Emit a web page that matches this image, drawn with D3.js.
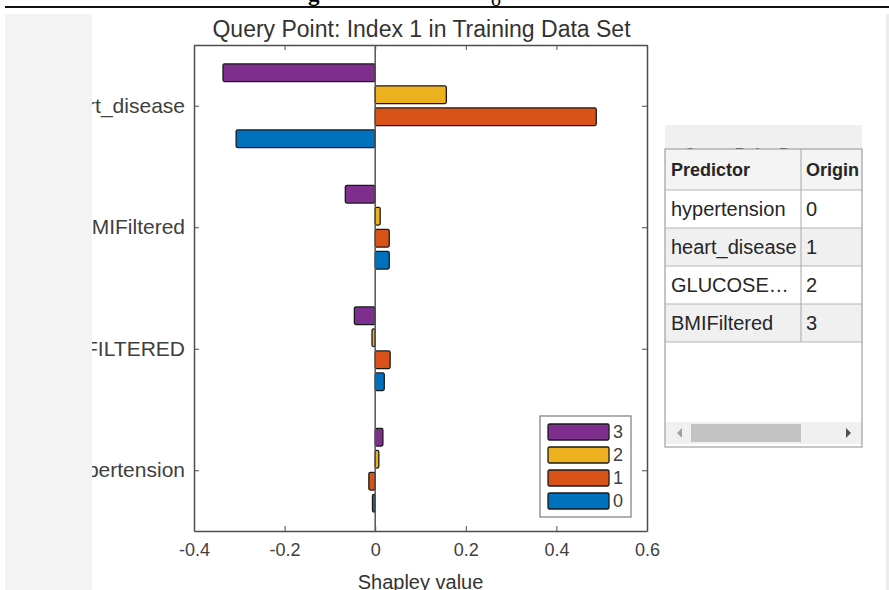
<!DOCTYPE html>
<html>
<head>
<meta charset="utf-8">
<script src="https://cdn.jsdelivr.net/npm/d3@7"></script>
<style>
  body { margin: 0; background: #fff; }
  svg { display: block; font-family: Arial, "Liberation Sans", Helvetica, sans-serif; }
  .axis path, .axis line { stroke: #4d4d4d; }
  .axis text { fill: #404040; }
</style>
</head>
<body>
<div id="chart"></div>
<script>
// chart data
const predictors = ['hypertension', 'GLUCOSE_FILTERED', 'BMIFiltered', 'heart_disease']; // bottom -> top
const classes = ['3', '2', '1', '0'];
const classColors = ['#7e2f8e', '#edb120', '#d95319', '#0072bd'];
const shapley3 = [0.017, -0.046, -0.066, -0.336];
const shapley2 = [0.008, -0.007, 0.011, 0.157];
const shapley1 = [-0.014, 0.033, 0.031, 0.488];
const shapley0 = [-0.006, 0.020, 0.031, -0.307];
const xTicks = [-0.4, -0.2, 0, 0.2, 0.4, 0.6];

// query point table
const tableHeader = ['Predictor', 'Origin'];
const tableRows = [
  ['hypertension', '0'],
  ['heart_disease', '1'],
  ['GLUCOSE\u2026', '2'],
  ['BMIFiltered', '3']
];

const seriesByClass = { '3': shapley3, '2': shapley2, '1': shapley1, '0': shapley0 };

const width = 889;
const height = 590;
const plot = { left: 194, right: 647, top: 45, bottom: 531 };

const svg = d3.select('#chart')
  .append('svg')
  .attr('width', width)
  .attr('height', height);

// page bits around the figure
svg.append('line')
  .attr('x1', 5).attr('x2', width)
  .attr('y1', 7).attr('y2', 7)
  .attr('stroke', '#111').attr('stroke-width', 2);
svg.append('text').attr('x', 308).attr('y', 1)
  .style('font-family', 'Liberation Serif, serif').style('font-weight', 'bold').style('font-size', '23px')
  .text('g');
svg.append('text').attr('x', 491).attr('y', 6)
  .style('font-family', 'Liberation Serif, serif').style('font-size', '20px')
  .text('o');

// scales
const xScale = d3.scaleLinear().domain([-0.4, 0.6]).range([plot.left, plot.right]);
const yScale = d3.scaleLinear().domain([0.5, 4.5]).range([plot.bottom, plot.top]);
const inner = d3.scaleBand().domain(classes).range([-44, 44]).paddingInner(0.2).paddingOuter(0.1);

// title
svg.append('text')
  .attr('x', (plot.left + plot.right) / 2 + 1)
  .attr('y', 37)
  .attr('text-anchor', 'middle')
  .attr('fill', '#333')
  .style('font-size', '23px')
  .text('Query Point: Index 1 in Training Data Set');

// axes box background
svg.append('rect')
  .attr('x', plot.left).attr('y', plot.top)
  .attr('width', plot.right - plot.left).attr('height', plot.bottom - plot.top)
  .attr('fill', '#fff');

// axes (ticks point inward, MATLAB style)
const xAxis = d3.axisBottom(xScale).tickValues(xTicks)
  .tickFormat((d) => d === 0 ? '0' : d3.format('.1f')(d).replace('\u2212', '-'))
  .tickSizeInner(-5).tickSizeOuter(0).tickPadding(12);
svg.append('g').attr('class', 'axis')
  .attr('transform', `translate(0, ${plot.bottom})`)
  .call(xAxis)
  .call((g) => g.selectAll('text').style('font-size', '18px'));

svg.append('g').attr('class', 'axis')
  .attr('transform', `translate(0, ${plot.top})`)
  .call(d3.axisTop(xScale).tickValues(xTicks).tickFormat('').tickSizeInner(-5).tickSizeOuter(0));

const yAxis = d3.axisLeft(yScale).tickValues([1, 2, 3, 4])
  .tickFormat((d) => predictors[d - 1])
  .tickSizeInner(-5).tickSizeOuter(0).tickPadding(9);
svg.append('g').attr('class', 'axis')
  .attr('transform', `translate(${plot.left}, 0)`)
  .call(yAxis)
  .call((g) => g.selectAll('text').style('font-size', '21px'));

svg.append('g').attr('class', 'axis')
  .attr('transform', `translate(${plot.right}, 0)`)
  .call(d3.axisRight(yScale).tickValues([1, 2, 3, 4]).tickFormat('').tickSizeInner(-5).tickSizeOuter(0));

svg.selectAll('.axis .domain').attr('stroke-width', 1.5);

// bars
const barData = [];
classes.forEach((c, ci) => {
  seriesByClass[c].forEach((v, pi) => {
    barData.push({ cls: c, color: classColors[ci], pos: pi + 1, value: v });
  });
});

svg.append('g').attr('class', 'bars')
  .selectAll('rect')
  .data(barData)
  .join('rect')
  .attr('x', (d) => Math.min(xScale(0), xScale(d.value)))
  .attr('width', (d) => Math.abs(xScale(d.value) - xScale(0)))
  .attr('y', (d) => yScale(d.pos) + inner(d.cls))
  .attr('height', inner.bandwidth())
  .attr('rx', 1.5)
  .attr('fill', (d) => d.color)
  .attr('stroke', '#1a1a1a')
  .attr('stroke-width', 1.3);

// zero line
svg.append('line')
  .attr('x1', xScale(0)).attr('x2', xScale(0))
  .attr('y1', plot.top).attr('y2', plot.bottom)
  .attr('stroke', '#555').attr('stroke-width', 1.5);

// legend
const legend = svg.append('g').attr('class', 'legend').attr('transform', 'translate(540, 416)');
legend.append('rect')
  .attr('width', 91).attr('height', 101)
  .attr('fill', '#fff').attr('stroke', '#7a7a7a').attr('stroke-width', 1.2);
const items = legend.selectAll('g.item')
  .data(classes)
  .join('g')
  .attr('class', 'item')
  .attr('transform', (d, i) => `translate(8, ${8 + i * 23})`);
items.append('rect')
  .attr('width', 61).attr('height', 16).attr('rx', 1.5)
  .attr('fill', (d, i) => classColors[i])
  .attr('stroke', '#1a1a1a').attr('stroke-width', 1.3);
items.append('text')
  .attr('x', 65).attr('y', 8).attr('dy', '0.36em')
  .attr('fill', '#404040')
  .style('font-size', '18px')
  .text((d) => d);

// x label
svg.append('text')
  .attr('x', xScale(0.1))
  .attr('y', 589)
  .attr('text-anchor', 'middle')
  .attr('fill', '#333')
  .style('font-size', '20px')
  .text('Shapley value');

// grey panel on the left clips the y labels
svg.append('rect')
  .attr('x', 0).attr('y', 8)
  .attr('width', 5).attr('height', height - 8)
  .attr('fill', '#fff');
svg.append('rect')
  .attr('x', 5).attr('y', 14)
  .attr('width', 87).attr('height', height - 14)
  .attr('fill', '#f3f3f3');
svg.append('rect')
  .attr('x', 886).attr('y', 14)
  .attr('width', 3).attr('height', height - 14)
  .attr('fill', '#ececec');

// query point table
const table = { left: 665, right: 862, top: 149, bottom: 447, colSplit: 801, headH: 41, rowH: 38 };
svg.append('rect')
  .attr('x', table.left).attr('y', 125)
  .attr('width', table.right - table.left).attr('height', 24)
  .attr('fill', '#f0f0f0');
svg.append('text')
  .attr('x', 684).attr('y', 160)
  .attr('fill', '#222')
  .style('font-size', '16px').style('font-weight', 'bold')
  .text('Query Point Data');

const tbl = svg.append('g').attr('class', 'table');
tbl.append('rect')
  .attr('x', table.left).attr('y', table.top)
  .attr('width', table.right - table.left).attr('height', table.bottom - table.top)
  .attr('fill', '#fff');

const clip = svg.append('clipPath').attr('id', 'tclip');
clip.append('rect')
  .attr('x', table.left).attr('y', table.top)
  .attr('width', table.right - table.left).attr('height', table.bottom - table.top);

const cells = tbl.append('g').attr('clip-path', 'url(#tclip)');
cells.append('rect')
  .attr('x', table.left).attr('y', table.top)
  .attr('width', table.right - table.left).attr('height', table.headH)
  .attr('fill', '#f4f4f4');
cells.selectAll('rect.row')
  .data(tableRows)
  .join('rect')
  .attr('class', 'row')
  .attr('x', table.left)
  .attr('y', (d, i) => table.top + table.headH + i * table.rowH)
  .attr('width', table.right - table.left)
  .attr('height', table.rowH)
  .attr('fill', (d, i) => i % 2 ? '#f0f0f0' : '#fff');

const lastRow = table.top + table.headH + tableRows.length * table.rowH;
d3.range(tableRows.length + 1).forEach((i) => {
  const y = table.top + table.headH + i * table.rowH;
  cells.append('line')
    .attr('x1', table.left).attr('x2', table.right)
    .attr('y1', y).attr('y2', y)
    .attr('stroke', '#b5b5b5');
});
cells.append('line')
  .attr('x1', table.colSplit).attr('x2', table.colSplit)
  .attr('y1', table.top).attr('y2', lastRow)
  .attr('stroke', '#a8a8a8');

const colX = [table.left + 6, table.colSplit + 5];
tableHeader.forEach((h, j) => {
  cells.append('text')
    .attr('x', colX[j]).attr('y', table.top + table.headH / 2).attr('dy', '0.36em')
    .attr('fill', '#262626')
    .style('font-size', '18px').style('font-weight', 'bold')
    .text(h);
});
tableRows.forEach((row, i) => {
  row.forEach((v, j) => {
    cells.append('text')
      .attr('x', colX[j])
      .attr('y', table.top + table.headH + i * table.rowH + table.rowH / 2)
      .attr('dy', '0.36em')
      .attr('fill', '#262626')
      .style('font-size', '20px')
      .text(v);
  });
});

// horizontal scrollbar
cells.append('rect')
  .attr('x', table.left).attr('y', 422)
  .attr('width', table.right - table.left).attr('height', 22)
  .attr('fill', '#f0f0f0');
cells.append('rect')
  .attr('x', 691).attr('y', 424)
  .attr('width', 110).attr('height', 18)
  .attr('fill', '#c2c2c2');
cells.append('path').attr('d', 'M682,428 L677,433 L682,438 Z').attr('fill', '#a0a0a0');
cells.append('path').attr('d', 'M846,428 L851,433 L846,438 Z').attr('fill', '#505050');

tbl.append('rect')
  .attr('x', table.left).attr('y', table.top)
  .attr('width', table.right - table.left).attr('height', table.bottom - table.top)
  .attr('fill', 'none').attr('stroke', '#a0a0a0').attr('stroke-width', 1.2);
</script>
</body>
</html>
